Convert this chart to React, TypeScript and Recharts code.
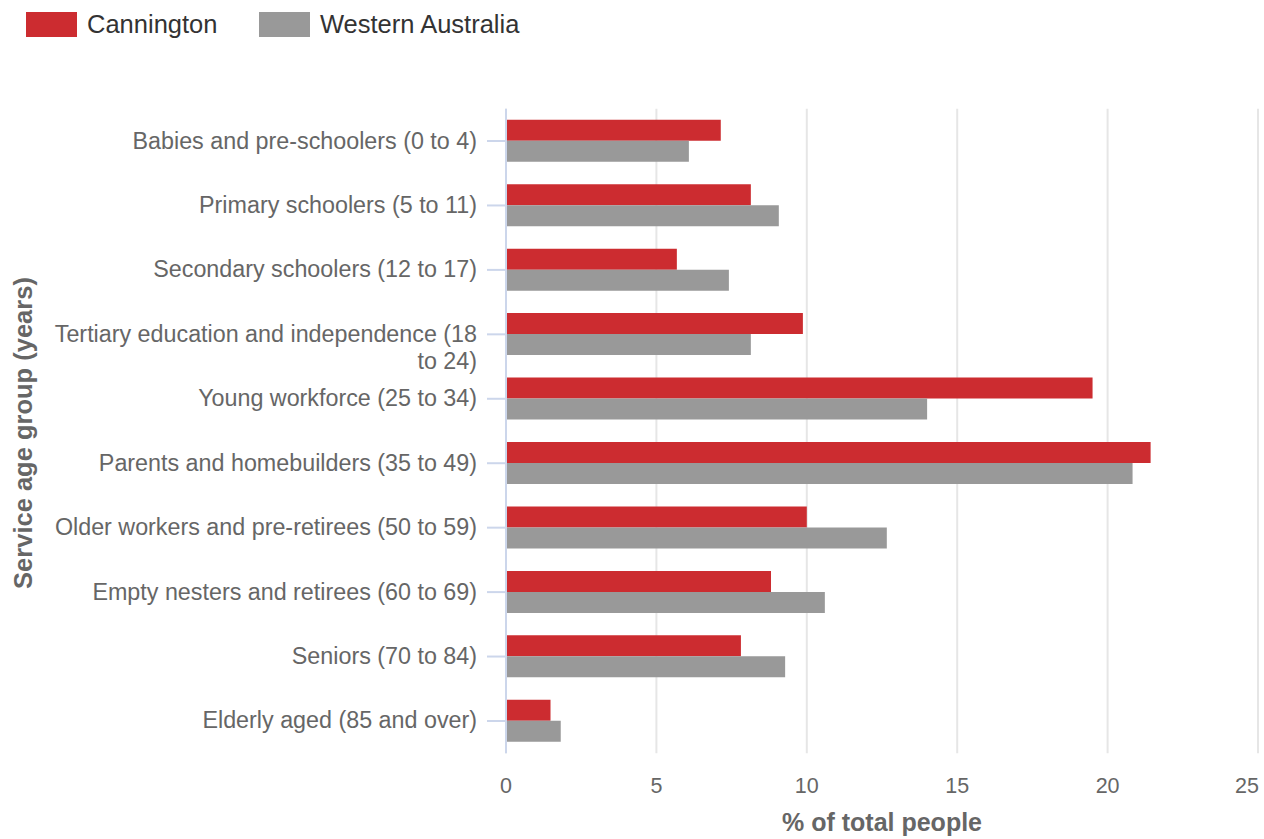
import { Bar, BarChart, CartesianGrid, Legend, XAxis, YAxis } from 'recharts'

const CATEGORIES = [
  'Babies and pre-schoolers (0 to 4)',
  'Primary schoolers (5 to 11)',
  'Secondary schoolers (12 to 17)',
  'Tertiary education and independence (18 to 24)',
  'Young workforce (25 to 34)',
  'Parents and homebuilders (35 to 49)',
  'Older workers and pre-retirees (50 to 59)',
  'Empty nesters and retirees (60 to 69)',
  'Seniors (70 to 84)',
  'Elderly aged (85 and over)',
]
const CANNINGTON = [7.14, 8.14, 5.68, 9.87, 19.5, 21.43, 10.0, 8.81, 7.81, 1.48]
const WESTERN_AUSTRALIA = [6.08, 9.07, 7.41, 8.14, 14.0, 20.83, 12.66, 10.6, 9.28, 1.82]
const X_TICKS = [0, 5, 10, 15, 20, 25]

const SERIES = [
  { key: 'Cannington', color: '#cc2c30' },
  { key: 'Western Australia', color: '#999999' },
]

const FONT = '"Liberation Sans", Arial, sans-serif'
const AXIS_COLOR = '#ccd6eb'

// wrap long category names the way the original axis did
function wrap(label: string, max = 41) {
  const lines: string[] = []
  let cur = ''
  for (const w of label.split(' ')) {
    const next = cur ? `${cur} ${w}` : w
    if (next.length > max && cur) {
      lines.push(cur)
      cur = w
    } else cur = next
  }
  if (cur) lines.push(cur)
  return lines
}

function CategoryTick({ x, y, payload }: any) {
  const lines = wrap(String(payload.value))
  return (
    <text x={x} y={y} textAnchor="end" fill="#666666" fontSize={23.3} fontFamily={FONT}>
      {lines.map((l, i) => (
        <tspan key={i} x={x} dy={i === 0 ? 7.5 : 27.5}>
          {l}
        </tspan>
      ))}
    </text>
  )
}

function ValueTick({ x, y, payload }: any) {
  const last = payload.value === X_TICKS[X_TICKS.length - 1]
  return (
    <text
      x={last ? x + 1 : x}
      y={y}
      dy={40}
      textAnchor={last ? 'end' : 'middle'}
      fill="#666666"
      fontSize={21.5}
      fontFamily={FONT}
    >
      {payload.value}
    </text>
  )
}

function LegendBox() {
  return (
    <div style={{ display: 'flex', alignItems: 'center', paddingLeft: 26, paddingTop: 12, fontFamily: FONT }}>
      {SERIES.map((s) => (
        <div key={s.key} style={{ display: 'flex', alignItems: 'center', width: 233, flexShrink: 0 }}>
          <span
            style={{ display: 'inline-block', width: 51, height: 25, background: s.color, marginRight: 10, flexShrink: 0 }}
          />
          <span style={{ fontSize: 25.5, color: '#333333', lineHeight: '25px', whiteSpace: 'nowrap' }}>{s.key}</span>
        </div>
      ))}
    </div>
  )
}

export default function App() {
  const data = CATEGORIES.map((name, i) => ({
    name,
    Cannington: CANNINGTON[i],
    'Western Australia': WESTERN_AUSTRALIA[i],
  }))

  return (
    <div style={{ position: 'absolute', left: 0, top: 0, fontFamily: FONT, background: '#fff' }}>
      <BarChart
        width={1264}
        height={839}
        data={data}
        layout="vertical"
        margin={{ top: 108.8, right: 6, bottom: 5.8, left: 0 }}
        barGap={0}
        barSize={21}
      >
        <CartesianGrid horizontal={false} stroke="#e6e6e6" strokeWidth={2} />
        <XAxis
          type="number"
          domain={[0, 25]}
          ticks={X_TICKS}
          interval={0}
          axisLine={false}
          tickLine={false}
          tickSize={0}
          tickMargin={0}
          height={80}
          tick={<ValueTick />}
          label={{
            content: () => (
              <text x={882} y={831} textAnchor="middle" fill="#666666" fontSize={25} fontWeight="bold" fontFamily={FONT}>
                % of total people
              </text>
            ),
          }}
        />
        <YAxis
          type="category"
          dataKey="name"
          width={506}
          interval={0}
          axisLine={{ stroke: AXIS_COLOR, strokeWidth: 2 }}
          tickLine={{ stroke: AXIS_COLOR, strokeWidth: 2 }}
          tickSize={19}
          tickMargin={10}
          tick={<CategoryTick />}
          label={{
            content: () => (
              <text
                x={0}
                y={0}
                transform="translate(32, 433) rotate(-90)"
                textAnchor="middle"
                fill="#666666"
                fontSize={25.5}
                fontWeight="bold"
                fontFamily={FONT}
              >
                Service age group (years)
              </text>
            ),
          }}
        />
        <Legend
          layout="vertical"
          verticalAlign="middle"
          align="center"
          wrapperStyle={{ top: 0, left: 0, width: 700, height: 50 }}
          content={() => <LegendBox />}
        />
        {SERIES.map((s) => (
          <Bar key={s.key} dataKey={s.key} fill={s.color} isAnimationActive={false} />
        ))}
      </BarChart>
    </div>
  )
}
